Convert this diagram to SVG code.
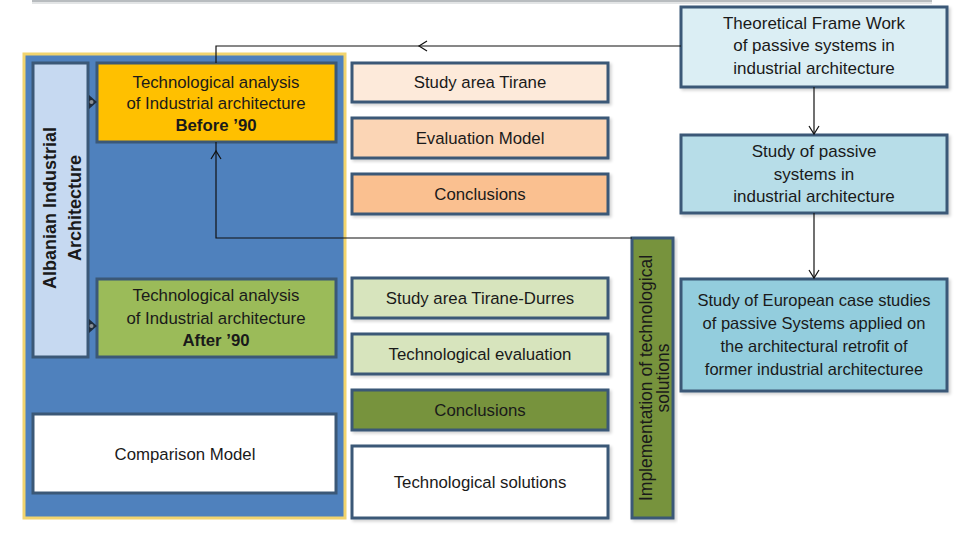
<svg xmlns="http://www.w3.org/2000/svg" width="960" height="534" viewBox="0 0 960 534">
<defs>
<style>
.t{font-family:"Liberation Sans",Arial,sans-serif;font-size:16.8px;fill:#1a1a1a;text-anchor:middle}
.b{font-weight:bold}
.box{stroke:#3B5877;stroke-width:3}
.ln{stroke:#111;stroke-width:1.2;fill:none}
.ah{stroke:#111;stroke-width:1.2;fill:none}
</style>
<filter id="sh" x="-5%" y="-5%" width="115%" height="120%"><feDropShadow dx="2" dy="2" stdDeviation="1.5" flood-color="#000" flood-opacity="0.18"/></filter>
</defs>
<rect width="960" height="534" fill="#fff"/>
<line x1="32" y1="1" x2="932" y2="1" stroke="#b8bcbf" stroke-width="2"/>
<line x1="32" y1="3" x2="932" y2="3" stroke="#e3e5e6" stroke-width="2"/>

<g id="outer">
<rect x="24" y="54" width="321" height="464" fill="#4F81BD" stroke="#F2D46E" stroke-width="3"/>
</g>

<g id="albanian">
<rect class="box" x="33" y="63" width="55" height="294" fill="#C6D9F1"/>
<text class="t b" transform="translate(56,208) rotate(-90)" style="font-size:18px">Albanian Industrial</text>
<text class="t b" transform="translate(81,208) rotate(-90)" style="font-size:18px">Architecture</text>
</g>

<g id="before90">
<rect class="box" x="97" y="63" width="239" height="79" fill="#FFC000"/>
<text class="t" x="216" y="88">Technological analysis</text>
<text class="t" x="216" y="109">of Industrial architecture</text>
<text class="t b" x="216" y="131">Before ’90</text>
</g>

<g id="after90">
<rect class="box" x="97" y="279" width="239" height="78" fill="#9BBB59"/>
<text class="t" x="216" y="301">Technological analysis</text>
<text class="t" x="216" y="324">of Industrial architecture</text>
<text class="t b" x="216" y="346">After ’90</text>
</g>

<g id="comparison">
<rect class="box" x="33" y="414" width="303" height="79" fill="#fff"/>
<text class="t" x="185" y="460">Comparison Model</text>
</g>

<g id="m1"><rect class="box" x="352" y="63" width="256" height="39" fill="#FDEADA" filter="url(#sh)"/><text class="t" x="480" y="88">Study area Tirane</text></g>
<g id="m2"><rect class="box" x="352" y="118" width="256" height="40" fill="#FBD5B5" filter="url(#sh)"/><text class="t" x="480" y="144">Evaluation Model</text></g>
<g id="m3"><rect class="box" x="352" y="174" width="256" height="40" fill="#FAC090" filter="url(#sh)"/><text class="t" x="480" y="200">Conclusions</text></g>
<g id="m4"><rect class="box" x="352" y="278" width="256" height="40" fill="#D7E4BD" filter="url(#sh)"/><text class="t" x="480" y="304">Study area Tirane-Durres</text></g>
<g id="m5"><rect class="box" x="352" y="334" width="256" height="40" fill="#D7E4BD" filter="url(#sh)"/><text class="t" x="480" y="360">Technological evaluation</text></g>
<g id="m6"><rect class="box" x="352" y="390" width="256" height="40" fill="#77933C" filter="url(#sh)"/><text class="t" x="480" y="416">Conclusions</text></g>
<g id="m7"><rect class="box" x="352" y="446" width="256" height="72" fill="#fff" filter="url(#sh)"/><text class="t" x="480" y="488">Technological solutions</text></g>

<g id="implementation">
<rect class="box" x="632" y="238" width="41" height="280" fill="#77933C" filter="url(#sh)"/>
<text class="t" transform="translate(652,378) rotate(-90)" style="font-size:17.5px">Implementation of technological</text>
<text class="t" transform="translate(669,378) rotate(-90)" style="font-size:17.5px">solutions</text>
</g>

<g id="theoretical">
<rect class="box" x="681" y="7" width="266" height="80" fill="#DBEEF4" filter="url(#sh)"/>
<text class="t" x="814" y="29" style="font-size:17px">Theoretical Frame Work</text>
<text class="t" x="814" y="51" style="font-size:17px">of passive systems in</text>
<text class="t" x="814" y="74" style="font-size:17px">industrial architecture</text>
</g>

<g id="passive">
<rect class="box" x="681" y="135" width="266" height="78" fill="#B7DDE8" filter="url(#sh)"/>
<text class="t" x="814" y="157" style="font-size:17px">Study of passive</text>
<text class="t" x="814" y="180" style="font-size:17px">systems in</text>
<text class="t" x="814" y="202" style="font-size:17px">industrial architecture</text>
</g>

<g id="european">
<rect class="box" x="681" y="279" width="266" height="112" fill="#93CDDD" filter="url(#sh)"/>
<text class="t" x="814" y="306" style="font-size:16.5px">Study of  European case studies</text>
<text class="t" x="814" y="329" style="font-size:16.5px">of passive Systems applied on</text>
<text class="t" x="814" y="352" style="font-size:16.5px">the architectural retrofit of</text>
<text class="t" x="814" y="375" style="font-size:16.5px">former industrial architecturee</text>
</g>

<g id="connectors">
<path class="ln" d="M681,46 H216 V63"/>
<path class="ah" d="M427,41 L419,46 L427,51"/>
<path class="ln" d="M632,238 H216 V142"/>
<path class="ah" d="M211,159 L216,151 L221,159"/>
<path class="ln" d="M814,87 V134"/>
<path class="ah" d="M809,126 L814,134 L819,126"/>
<path class="ln" d="M814,213 V278"/>
<path class="ah" d="M809,270 L814,278 L819,270"/>
<path d="M89,95 L97,102 L89,109 Z" fill="#1f2d3d"/>
<circle cx="91.5" cy="102" r="2" fill="#8a8f96"/>
<path d="M89,319 L97,326 L89,333 Z" fill="#1f2d3d"/>
<circle cx="91.5" cy="326" r="2" fill="#8a8f96"/>
</g>
</svg>
